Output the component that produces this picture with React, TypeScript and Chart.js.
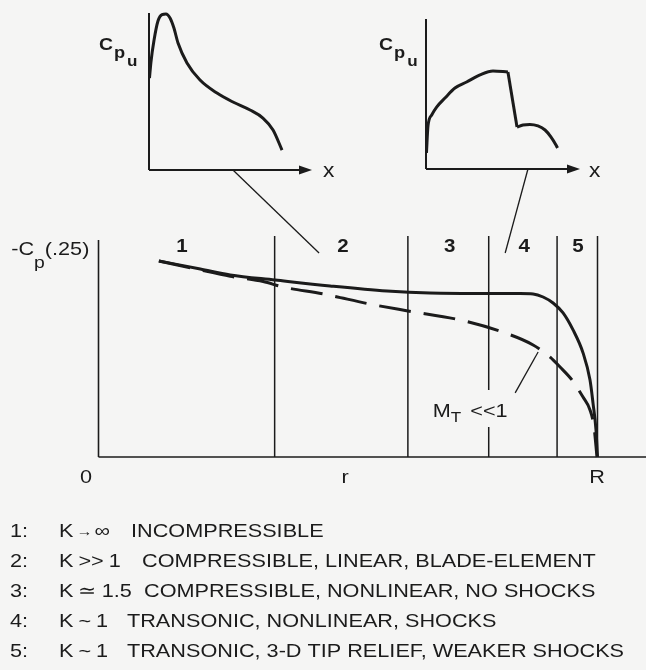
import React, { useEffect, useRef } from "react";
import { Chart, registerables } from "chart.js";

Chart.register(...registerables);

const W = 646;
const H = 670;
const BG = "#f5f5f4";
const INK = "#1b1b1b";
const FONT = "'Liberation Sans', Arial, Helvetica, sans-serif";
const SX = 1.14; // horizontal stretch of the lettering (wide grotesque in the original)

// ---------- main panel (x: r/R, y: -Cp(.25), schematic units) ----------
const solidR = [0.121, 0.204, 0.264, 0.354, 0.464, 0.578, 0.664, 0.78, 0.845, 0.871, 0.891, 0.911, 0.931, 0.951, 0.971, 0.985, 0.991, 0.997, 1.0];
const solidCp = [0.887, 0.851, 0.824, 0.801, 0.774, 0.751, 0.742, 0.74, 0.74, 0.738, 0.724, 0.697, 0.652, 0.575, 0.471, 0.348, 0.244, 0.122, 0];
const dashedR = [0.121, 0.204, 0.264, 0.33, 0.37, 0.45, 0.544, 0.62, 0.725, 0.809, 0.871, 0.905, 0.925, 0.949, 0.971, 0.985, 0.993, 0.999];
const dashedCp = [0.887, 0.846, 0.818, 0.794, 0.769, 0.738, 0.692, 0.661, 0.62, 0.566, 0.507, 0.452, 0.407, 0.348, 0.271, 0.213, 0.136, 0];
const dividerR = [0.353, 0.62, 0.782, 0.919, 1.0];
const dividerTop = 1.0;
const yAxisTop = 0.982;
const xAxisEnd = 1.0972;
const regionLabels = ["1", "2", "3", "4", "5"];
const regionLabelR = [0.167, 0.49, 0.704, 0.853, 0.961];
const regionLabelCp = 0.928;
const tickLabels = ["0", "r", "R"];
const tickLabelR = [-0.025, 0.494, 0.999];
const tickLabelCp = -0.118;
const mtLeaderR = [0.835, 0.881];
const mtLeaderCp = [0.29, 0.475];

// ---------- inset A (subcritical Cpu vs x) ----------
const insetAX = [0.003, 0.012, 0.031, 0.055, 0.08, 0.104, 0.129, 0.153, 0.178, 0.233, 0.313, 0.417, 0.515, 0.62, 0.699, 0.761, 0.816];
const insetAY = [0.586, 0.688, 0.828, 0.949, 0.99, 0.994, 0.968, 0.904, 0.809, 0.682, 0.573, 0.49, 0.433, 0.382, 0.331, 0.255, 0.127];

// ---------- inset B (transonic Cpu vs x, with shock) ----------
const insetBArcX = [0.003, 0.013, 0.037, 0.069, 0.123, 0.188, 0.264, 0.351, 0.435, 0.532];
const insetBArcY = [0.107, 0.287, 0.36, 0.413, 0.473, 0.54, 0.58, 0.627, 0.653, 0.647];
const insetBShockX = [0.532, 0.591];
const insetBShockY = [0.647, 0.28];
const insetBTailX = [0.591, 0.63, 0.675, 0.727, 0.773, 0.812, 0.844, 0.854];
const insetBTailY = [0.28, 0.293, 0.297, 0.287, 0.26, 0.213, 0.16, 0.14];

// leader lines: point on inset x-axis -> point in main panel
const leaderInsetU = [0.515, 0.662];
const leaderMainR = [0.442, 0.815];
const leaderMainCp = [0.923, 0.923];

// ---------- legend ----------
const legendNums = ["1:", "2:", "3:", "4:", "5:"];
const legendKLetter = ["K", "K", "K", "K", "K"];
const legendKRel = ["\u2192", ">>", "\u2243", "~", "~"];
const legendKVal = ["\u221e", "1", "1.5", "1", "1"];
const legendDesc = [
  "INCOMPRESSIBLE",
  "COMPRESSIBLE, LINEAR, BLADE-ELEMENT",
  "COMPRESSIBLE, NONLINEAR, NO SHOCKS",
  "TRANSONIC, NONLINEAR, SHOCKS",
  "TRANSONIC, 3-D TIP RELIEF, WEAKER SHOCKS",
];

// ---------- layout (pixel geometry of the panels) ----------
const MAIN = { x0: 98.5, xs: 499, y0: 457, ys: 221 };
const INA = { x0: 149, xs: 163, y0: 170, ys: 157 };
const INB = { x0: 426, xs: 154, y0: 169, ys: 150 };
const LEG = { numX: 10, kX: 59, descX: [131, 142, 144, 127, 127], base0: 537, step: 30, size: 19 };

const rangeX = (g: any) => ({ min: -g.x0 / g.xs, max: (W - g.x0) / g.xs });
const rangeY = (g: any) => ({ min: (g.y0 - H) / g.ys, max: g.y0 / g.ys });

const pts = (xs: number[], ys: number[]) => xs.map((x, i) => ({ x, y: ys[i] }));

function txt(ctx: CanvasRenderingContext2D, t: string, x: number, y: number, font: string, align: CanvasTextAlign = "left") {
  ctx.save();
  ctx.font = font;
  ctx.textAlign = align;
  ctx.translate(x, y);
  ctx.scale(SX, 1);
  ctx.fillText(t, 0, 0);
  const w = ctx.measureText(t).width * SX;
  ctx.restore();
  return w;
}

type Run = { t: string; size: number; dy?: number; dx?: number; bold?: boolean };
function drawRuns(ctx: CanvasRenderingContext2D, runs: Run[], x: number, y: number) {
  let cx = x;
  for (const r of runs) {
    cx += r.dx || 0;
    cx += txt(ctx, r.t, cx, y + (r.dy || 0), `${r.bold ? "bold " : ""}${r.size}px ${FONT}`);
  }
  return cx;
}

const figurePlugin = {
  id: "figure",
  beforeDraw(chart: any) {
    const ctx = chart.ctx;
    ctx.save();
    ctx.fillStyle = BG;
    ctx.fillRect(0, 0, chart.width, chart.height);
    ctx.restore();
  },
  afterDatasetsDraw(chart: any) {
    const ctx: CanvasRenderingContext2D = chart.ctx;
    const s = chart.scales;
    ctx.save();
    ctx.fillStyle = INK;
    ctx.strokeStyle = INK;

    // arrowheads on inset x-axes
    const arrow = (xs: any, ys: any) => {
      const tx = xs.getPixelForValue(1);
      const ty = ys.getPixelForValue(0);
      ctx.beginPath();
      ctx.moveTo(tx, ty);
      ctx.lineTo(tx - 13, ty - 4.5);
      ctx.lineTo(tx - 13, ty + 4.5);
      ctx.closePath();
      ctx.fill();
    };
    arrow(s.xa, s.ya);
    arrow(s.xb, s.yb);

    // leader lines from insets to main panel
    ctx.lineWidth = 1.3;
    const insets = [
      [s.xa, s.ya],
      [s.xb, s.yb],
    ];
    leaderInsetU.forEach((u, i) => {
      const [xs, ys] = insets[i];
      ctx.beginPath();
      ctx.moveTo(xs.getPixelForValue(u), ys.getPixelForValue(0));
      ctx.lineTo(s.x.getPixelForValue(leaderMainR[i]), s.y.getPixelForValue(leaderMainCp[i]));
      ctx.stroke();
    });

    ctx.textBaseline = "alphabetic";

    // inset labels
    const cpu = (xs: any, ys: any, u: number, w: number) => {
      drawRuns(ctx, [
        { t: "C", size: 17, bold: true },
        { t: "p", size: 16, dy: 8, dx: 1, bold: true },
        { t: "u", size: 15, dy: 16, dx: 2, bold: true },
      ], xs.getPixelForValue(u), ys.getPixelForValue(w));
    };
    cpu(s.xa, s.ya, -0.307, 0.764);
    cpu(s.xb, s.yb, -0.305, 0.793);
    txt(ctx, "x", s.xa.getPixelForValue(1.067), s.ya.getPixelForValue(-0.045), `20px ${FONT}`);
    txt(ctx, "x", s.xb.getPixelForValue(1.058), s.yb.getPixelForValue(-0.053), `20px ${FONT}`);

    // main y label
    drawRuns(ctx, [
      { t: "-C", size: 19 },
      { t: "p", size: 17, dy: 13, dx: 0 },
      { t: "(.25)", size: 19, dx: 0 },
    ], s.x.getPixelForValue(-0.175), s.y.getPixelForValue(0.914));

    // region numbers
    regionLabels.forEach((t, i) => {
      txt(ctx, t, s.x.getPixelForValue(regionLabelR[i]), s.y.getPixelForValue(regionLabelCp), `bold 18px ${FONT}`, "center");
    });
    // axis labels
    tickLabels.forEach((t, i) => {
      txt(ctx, t, s.x.getPixelForValue(tickLabelR[i]), s.y.getPixelForValue(tickLabelCp), `19px ${FONT}`, "center");
    });

    // M_T << 1 label (with a background knock-out)
    const mx = s.x.getPixelForValue(0.67);
    const my = s.y.getPixelForValue(0.181);
    ctx.fillStyle = BG;
    ctx.fillRect(mx - 3, my - 27, 82, 37);
    ctx.fillStyle = INK;
    drawRuns(ctx, [
      { t: "M", size: 19 },
      { t: "T", size: 15, dy: 5 },
      { t: "<<1", size: 19, dx: 9 },
    ], mx, my);

    // legend
    const lf = `${LEG.size}px ${FONT}`;
    legendNums.forEach((n, i) => {
      const y = LEG.base0 + i * LEG.step;
      txt(ctx, n, LEG.numX, y, lf);
      const relSize = i === 0 ? 14 : LEG.size;
      drawRuns(ctx, [
        { t: legendKLetter[i], size: LEG.size },
        { t: legendKRel[i], size: relSize, dx: i === 0 ? 3 : 5, dy: i === 0 ? -1 : 0 },
        { t: legendKVal[i], size: LEG.size, dx: i === 0 ? 2 : 5 },
      ], LEG.kX, y);
      txt(ctx, legendDesc[i], LEG.descX[i], y, lf);
    });

    ctx.restore();
  },
};

export default function App() {
  const ref = useRef<HTMLCanvasElement>(null);

  useEffect(() => {
    document.body.style.margin = "0";
    document.body.style.background = BG;
    const line = (data: any[], xAxisID: string, yAxisID: string, extra: any = {}) => ({
      data,
      xAxisID,
      yAxisID,
      showLine: true,
      borderColor: INK,
      borderWidth: 1.5,
      pointRadius: 0,
      fill: false,
      ...extra,
    });

    const datasets: any[] = [
      // main axes
      line(pts([0, 0], [0, yAxisTop]), "x", "y", { borderWidth: 1.6 }),
      line(pts([0, xAxisEnd], [0, 0]), "x", "y", { borderWidth: 1.6 }),
      // region dividers
      ...dividerR.map((r) => line(pts([r, r], [0, dividerTop]), "x", "y", { borderWidth: 1.5 })),
      // M_T leader
      line(pts(mtLeaderR, mtLeaderCp), "x", "y", { borderWidth: 1.3 }),
      // curves
      line(pts(solidR, solidCp), "x", "y", { borderWidth: 3, cubicInterpolationMode: "monotone" }),
      line(pts(dashedR, dashedCp), "x", "y", { borderWidth: 3, cubicInterpolationMode: "monotone", borderDash: [32, 13] }),
      // inset A
      line(pts([0, 0], [0, 1]), "xa", "ya", { borderWidth: 2 }),
      line(pts([0, 0.97], [0, 0]), "xa", "ya", { borderWidth: 2 }),
      line(pts(insetAX, insetAY), "xa", "ya", { borderWidth: 3, cubicInterpolationMode: "monotone" }),
      // inset B
      line(pts([0, 0], [0, 1]), "xb", "yb", { borderWidth: 2 }),
      line(pts([0, 0.97], [0, 0]), "xb", "yb", { borderWidth: 2 }),
      line(pts(insetBArcX, insetBArcY), "xb", "yb", { borderWidth: 3, cubicInterpolationMode: "monotone" }),
      line(pts(insetBShockX, insetBShockY), "xb", "yb", { borderWidth: 3 }),
      line(pts(insetBTailX, insetBTailY), "xb", "yb", { borderWidth: 3, cubicInterpolationMode: "monotone" }),
    ];

    const hidden = (r: any) => ({ type: "linear", display: false, min: r.min, max: r.max });

    const chart = new Chart(ref.current as HTMLCanvasElement, {
      type: "scatter",
      data: { datasets },
      options: {
        animation: false,
        responsive: false,
        maintainAspectRatio: false,
        events: [],
        layout: { padding: 0 },
        plugins: { legend: { display: false }, tooltip: { enabled: false }, title: { display: false } },
        elements: { line: { borderJoinStyle: "round" } },
        scales: {
          x: hidden(rangeX(MAIN)),
          y: hidden(rangeY(MAIN)),
          xa: hidden(rangeX(INA)),
          ya: hidden(rangeY(INA)),
          xb: hidden(rangeX(INB)),
          yb: hidden(rangeY(INB)),
        },
      } as any,
      plugins: [figurePlugin as any],
    });
    return () => chart.destroy();
  }, []);

  return (
    <div style={{ position: "absolute", left: 0, top: 0, width: W, height: H, background: BG }}>
      <canvas ref={ref} width={W} height={H} style={{ display: "block", width: W, height: H }} />
    </div>
  );
}
